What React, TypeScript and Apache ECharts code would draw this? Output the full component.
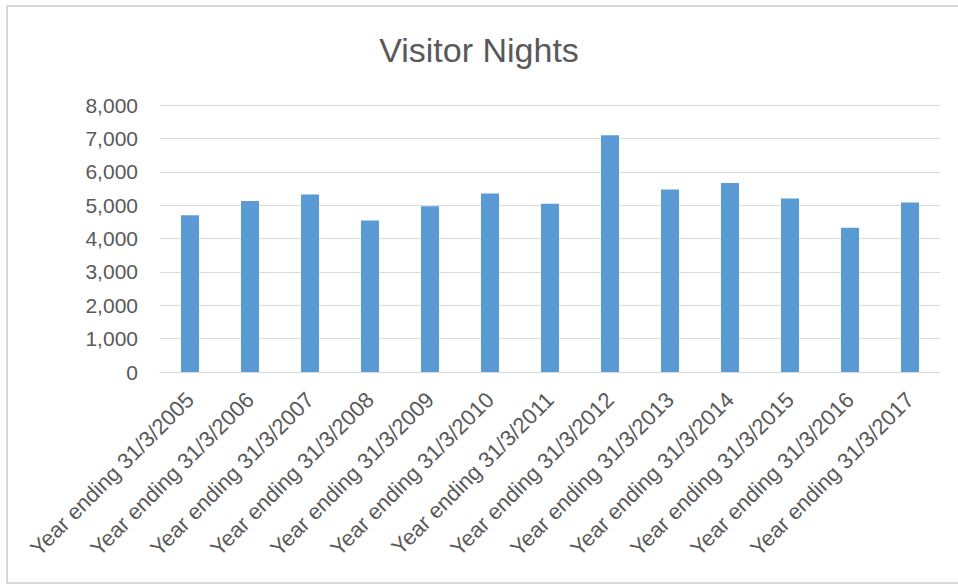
import React, { useEffect, useRef } from "react";
import * as echarts from "echarts";

const categories: string[] = [
  "Year ending 31/3/2005",
  "Year ending 31/3/2006",
  "Year ending 31/3/2007",
  "Year ending 31/3/2008",
  "Year ending 31/3/2009",
  "Year ending 31/3/2010",
  "Year ending 31/3/2011",
  "Year ending 31/3/2012",
  "Year ending 31/3/2013",
  "Year ending 31/3/2014",
  "Year ending 31/3/2015",
  "Year ending 31/3/2016",
  "Year ending 31/3/2017",
];

const visitorNights: number[] = [
  4700, 5120, 5320, 4540, 4970, 5350, 5040, 7090, 5470, 5660, 5200, 4320, 5080,
];

const yTicks = { min: 0, max: 8000, interval: 1000 };

const FONT = "'Liberation Sans', Arial, sans-serif";
const TEXT = "#595959";
const GRIDLINE = "#d9d9d9";

export default function App() {
  const ref = useRef<HTMLDivElement>(null);

  useEffect(() => {
    if (!ref.current) return;
    const chart = echarts.init(ref.current, undefined, { renderer: "svg" });
    chart.setOption({
      animation: false,
      backgroundColor: "#ffffff",
      title: {
        text: "Visitor Nights",
        left: "center",
        top: 28,
        textStyle: {
          fontFamily: FONT,
          fontSize: 34,
          fontWeight: "normal",
          color: TEXT,
        },
      },
      graphic: [
        {
          type: "rect",
          shape: { x: 7, y: 6, width: 980, height: 577 },
          style: { fill: "none", stroke: GRIDLINE, lineWidth: 2 },
          silent: true,
        },
      ],
      grid: { left: 160, right: 18, top: 105, bottom: 214, containLabel: false },
      xAxis: {
        type: "category",
        data: categories,
        axisLine: { show: true, lineStyle: { color: GRIDLINE, width: 1 } },
        axisTick: { show: false },
        axisLabel: {
          rotate: 45,
          interval: 0,
          margin: 24,
          fontFamily: FONT,
          fontSize: 22,
          color: TEXT,
        },
      },
      yAxis: {
        type: "value",
        min: yTicks.min,
        max: yTicks.max,
        interval: yTicks.interval,
        axisLine: { show: false },
        axisTick: { show: false },
        splitLine: { lineStyle: { color: GRIDLINE, width: 1 } },
        axisLabel: {
          margin: 22,
          fontFamily: FONT,
          fontSize: 21,
          color: TEXT,
          formatter: (v: number) => v.toLocaleString("en-US"),
        },
      },
      series: [
        {
          type: "bar",
          data: visitorNights,
          barWidth: 18,
          itemStyle: { color: "#5b9bd5" },
        },
      ],
    });
    return () => chart.dispose();
  }, []);

  return (
    <div
      ref={ref}
      style={{ position: "fixed", left: 0, top: 0, width: 958, height: 586 }}
    />
  );
}
